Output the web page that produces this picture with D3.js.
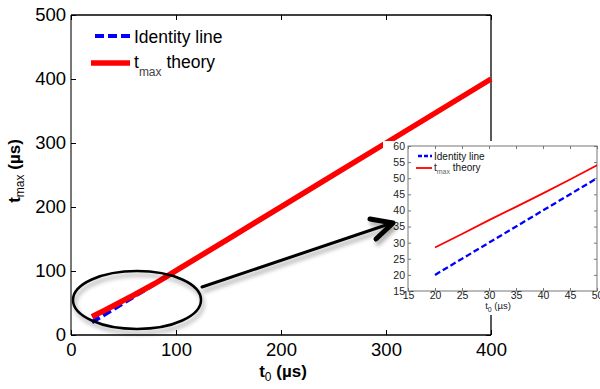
<!DOCTYPE html>
<html>
<head>
<meta charset="utf-8">
<script src="https://cdn.jsdelivr.net/npm/d3@7"></script>
<style>
  html, body { margin: 0; padding: 0; background: #fff; }
  svg { display: block; font-family: "Liberation Sans", Arial, sans-serif; }
</style>
</head>
<body>
<svg id="chart" width="600" height="389"></svg>
<script>
// Delay time t0 (µs) and predicted peak time tmax (µs)
const t0Values = [20, 25, 30, 35, 40, 45, 50, 60, 70, 80, 90, 100, 150, 200, 250, 300, 350, 400];
const tmaxTheory = [28.5, 32.7, 37, 41.1, 45.3, 49.6, 54, 62.5, 71.5, 80.5, 90.5, 100.5, 150.3, 200.2, 250.1, 300, 350, 400];
const identityT0 = [20, 400];

const mainXTicks = [0, 100, 200, 300, 400];
const mainYTicks = [0, 100, 200, 300, 400, 500];
const insetXTicks = [15, 20, 25, 30, 35, 40, 45, 50];
const insetYTicks = [15, 20, 25, 30, 35, 40, 45, 50, 55, 60];

const legendLabels = ["Identity line", "theory"];

const svg = d3.select("#chart");
const defs = svg.append("defs");

const shadow = defs.append("filter").attr("id", "shadow")
  .attr("x", "-20%").attr("y", "-30%").attr("width", "150%").attr("height", "170%");
shadow.append("feDropShadow").attr("dx", 2).attr("dy", 4).attr("stdDeviation", 2.2)
  .attr("flood-color", "#000").attr("flood-opacity", 0.35);

// ---------- main axes ----------
const x = d3.scaleLinear().domain([0, 400]).range([71, 491]);
const y = d3.scaleLinear().domain([0, 500]).range([335, 15]);

const identity = identityT0.map(v => [v, v]);
const theory = t0Values.map((v, i) => [v, tmaxTheory[i]]);

const main = svg.append("g");

// frame
main.append("line").attr("x1", x(0)).attr("x2", x(400)).attr("y1", y(500)).attr("y2", y(500))
  .attr("stroke", "#000").attr("stroke-width", 1.3);
main.append("line").attr("x1", x(400)).attr("x2", x(400)).attr("y1", y(500)).attr("y2", y(0))
  .attr("stroke", "#000").attr("stroke-width", 1.3);
main.append("line").attr("x1", x(0)).attr("x2", x(400)).attr("y1", y(0)).attr("y2", y(0))
  .attr("stroke", "#000").attr("stroke-width", 1.5);
main.append("line").attr("x1", x(0)).attr("x2", x(0)).attr("y1", y(500)).attr("y2", y(0))
  .attr("stroke", "#777").attr("stroke-width", 2);

// ticks (inside)
const xAxis = d3.axisBottom(x).tickValues(mainXTicks).tickSize(-5).tickPadding(10);
const gx = main.append("g").attr("transform", `translate(0,${y(0)})`).call(xAxis);
gx.select(".domain").remove();
gx.selectAll("text").attr("font-size", 18.5).attr("fill", "#000").attr("dy", "0.62em");
const gxTop = main.append("g").attr("transform", `translate(0,${y(500)})`)
  .call(d3.axisTop(x).tickValues(mainXTicks).tickSize(-5).tickFormat(""));
gxTop.select(".domain").remove();

const yAxis = d3.axisLeft(y).tickValues(mainYTicks).tickSize(-5).tickPadding(5);
const gy = main.append("g").attr("transform", `translate(${x(0)},0)`).call(yAxis);
gy.select(".domain").remove();
gy.selectAll("text").attr("font-size", 18.5).attr("fill", "#000");
const gyR = main.append("g").attr("transform", `translate(${x(400)},0)`)
  .call(d3.axisRight(y).tickValues(mainYTicks).tickSize(-5).tickFormat(""));
gyR.select(".domain").remove();

// axis labels
const xl = main.append("text").attr("x", 283).attr("y", 377).attr("text-anchor", "middle")
  .attr("font-size", 17).attr("font-weight", "bold");
xl.append("tspan").text("t");
xl.append("tspan").attr("font-size", 12).attr("font-weight", "normal").attr("dy", 4).text("0");
xl.append("tspan").attr("dy", -4).text(" (µs)");

const yl = main.append("text").attr("transform", `translate(20,171) rotate(-90)`)
  .attr("text-anchor", "middle").attr("font-size", 17).attr("font-weight", "bold");
yl.append("tspan").text("t");
yl.append("tspan").attr("font-size", 12).attr("font-weight", "normal").attr("dy", 4).text("max");
yl.append("tspan").attr("dy", -4).text(" (µs)");

const line = d3.line().x(d => x(d[0])).y(d => y(d[1]));
main.append("path").datum(identity).attr("d", line).attr("fill", "none")
  .attr("stroke", "#0000ff").attr("stroke-width", 4).attr("stroke-dasharray", "9,4");
main.append("path").datum(theory).attr("d", line).attr("fill", "none")
  .attr("stroke", "#ff0000").attr("stroke-width", 5.5);

// legend
const leg = main.append("g");
leg.append("line").attr("x1", 95).attr("x2", 130).attr("y1", 36).attr("y2", 36)
  .attr("stroke", "#0000ff").attr("stroke-width", 4).attr("stroke-dasharray", "9,4");
leg.append("text").attr("x", 134).attr("y", 43).attr("font-size", 17.5).text(legendLabels[0]);
leg.append("line").attr("x1", 91).attr("x2", 130).attr("y1", 63).attr("y2", 63)
  .attr("stroke", "#ff0000").attr("stroke-width", 5.5);
const lt = leg.append("text").attr("x", 134).attr("y", 68).attr("font-size", 17.5);
lt.append("tspan").text("t");
lt.append("tspan").attr("font-size", 12).attr("dy", 8).attr("fill", "#444").text("max");
lt.append("tspan").attr("dy", -8).text(" " + legendLabels[1]);

// callout ellipse
svg.append("ellipse").attr("cx", 137).attr("cy", 300).attr("rx", 64).attr("ry", 29)
  .attr("fill", "none").attr("stroke", "#000").attr("stroke-width", 2.5).attr("filter", "url(#shadow)");

// ---------- inset ----------
svg.append("rect").attr("x", 383).attr("y", 141).attr("width", 217).attr("height", 174).attr("fill", "#fff");

const xi = d3.scaleLinear().domain([15, 50]).range([408, 597]);
const yi = d3.scaleLinear().domain([15, 60]).range([291, 146]);
const inset = svg.append("g");

inset.append("defs").append("clipPath").attr("id", "insetClip")
  .append("rect").attr("x", xi(15)).attr("y", yi(60)).attr("width", xi(50) - xi(15)).attr("height", yi(15) - yi(60));

inset.append("rect").attr("x", xi(15)).attr("y", yi(60)).attr("width", xi(50) - xi(15)).attr("height", yi(15) - yi(60))
  .attr("fill", "none").attr("stroke", "#777").attr("stroke-width", 1);

const ixAxis = inset.append("g").attr("transform", `translate(0,${yi(15)})`)
  .call(d3.axisBottom(xi).tickValues(insetXTicks).tickSize(-3).tickPadding(1));
const ixTop = inset.append("g").attr("transform", `translate(0,${yi(60)})`)
  .call(d3.axisTop(xi).tickValues(insetXTicks).tickSize(-3).tickFormat(""));
const iyAxis = inset.append("g").attr("transform", `translate(${xi(15)},0)`)
  .call(d3.axisLeft(yi).tickValues(insetYTicks).tickSize(-3).tickPadding(3));
const iyR = inset.append("g").attr("transform", `translate(${xi(50)},0)`)
  .call(d3.axisRight(yi).tickValues(insetYTicks).tickSize(-3).tickFormat(""));
[ixAxis, ixTop, iyAxis, iyR].forEach(g => {
  g.select(".domain").remove();
  g.selectAll("line").attr("stroke", "#777");
  g.selectAll("text").attr("font-size", 10.5).attr("fill", "#222");
});

const il = inset.append("text").attr("x", 498).attr("y", 309).attr("text-anchor", "middle")
  .attr("font-size", 9.5).attr("fill", "#222");
il.append("tspan").text("t");
il.append("tspan").attr("font-size", 7).attr("dy", 3).text("0");
il.append("tspan").attr("dy", -3).text(" (µs)");

const iline = d3.line().x(d => xi(d[0])).y(d => yi(d[1]));
const ip = inset.append("g").attr("clip-path", "url(#insetClip)");
ip.append("path").datum(identity).attr("d", iline).attr("fill", "none")
  .attr("stroke", "#0000ff").attr("stroke-width", 2.3).attr("stroke-dasharray", "6,3");
ip.append("path").datum(theory).attr("d", iline).attr("fill", "none")
  .attr("stroke", "#ff0000").attr("stroke-width", 1.8);

inset.append("line").attr("x1", 418).attr("x2", 432).attr("y1", 156).attr("y2", 156)
  .attr("stroke", "#0000ff").attr("stroke-width", 2.3).attr("stroke-dasharray", "4,2");
inset.append("text").attr("x", 434).attr("y", 160).attr("font-size", 10).attr("fill", "#111").text(legendLabels[0]);
inset.append("line").attr("x1", 416).attr("x2", 432).attr("y1", 168).attr("y2", 168)
  .attr("stroke", "#ff0000").attr("stroke-width", 1.8);
const ilt = inset.append("text").attr("x", 434).attr("y", 171).attr("font-size", 10).attr("fill", "#111");
ilt.append("tspan").text("t");
ilt.append("tspan").attr("font-size", 7).attr("dy", 3).attr("fill", "#666").text("max");
ilt.append("tspan").attr("dy", -3).text(" " + legendLabels[1]);

// callout arrow, drawn over the inset margin
const arrow = svg.append("g").attr("filter", "url(#shadow)")
  .attr("stroke", "#000").attr("fill", "none").attr("stroke-linecap", "round").attr("stroke-linejoin", "round");
arrow.append("line").attr("x1", 202).attr("y1", 287).attr("x2", 392).attr("y2", 223).attr("stroke-width", 3);
arrow.append("polyline").attr("points", "370,219 393,223 376,239").attr("stroke-width", 5);
</script>
</body>
</html>
